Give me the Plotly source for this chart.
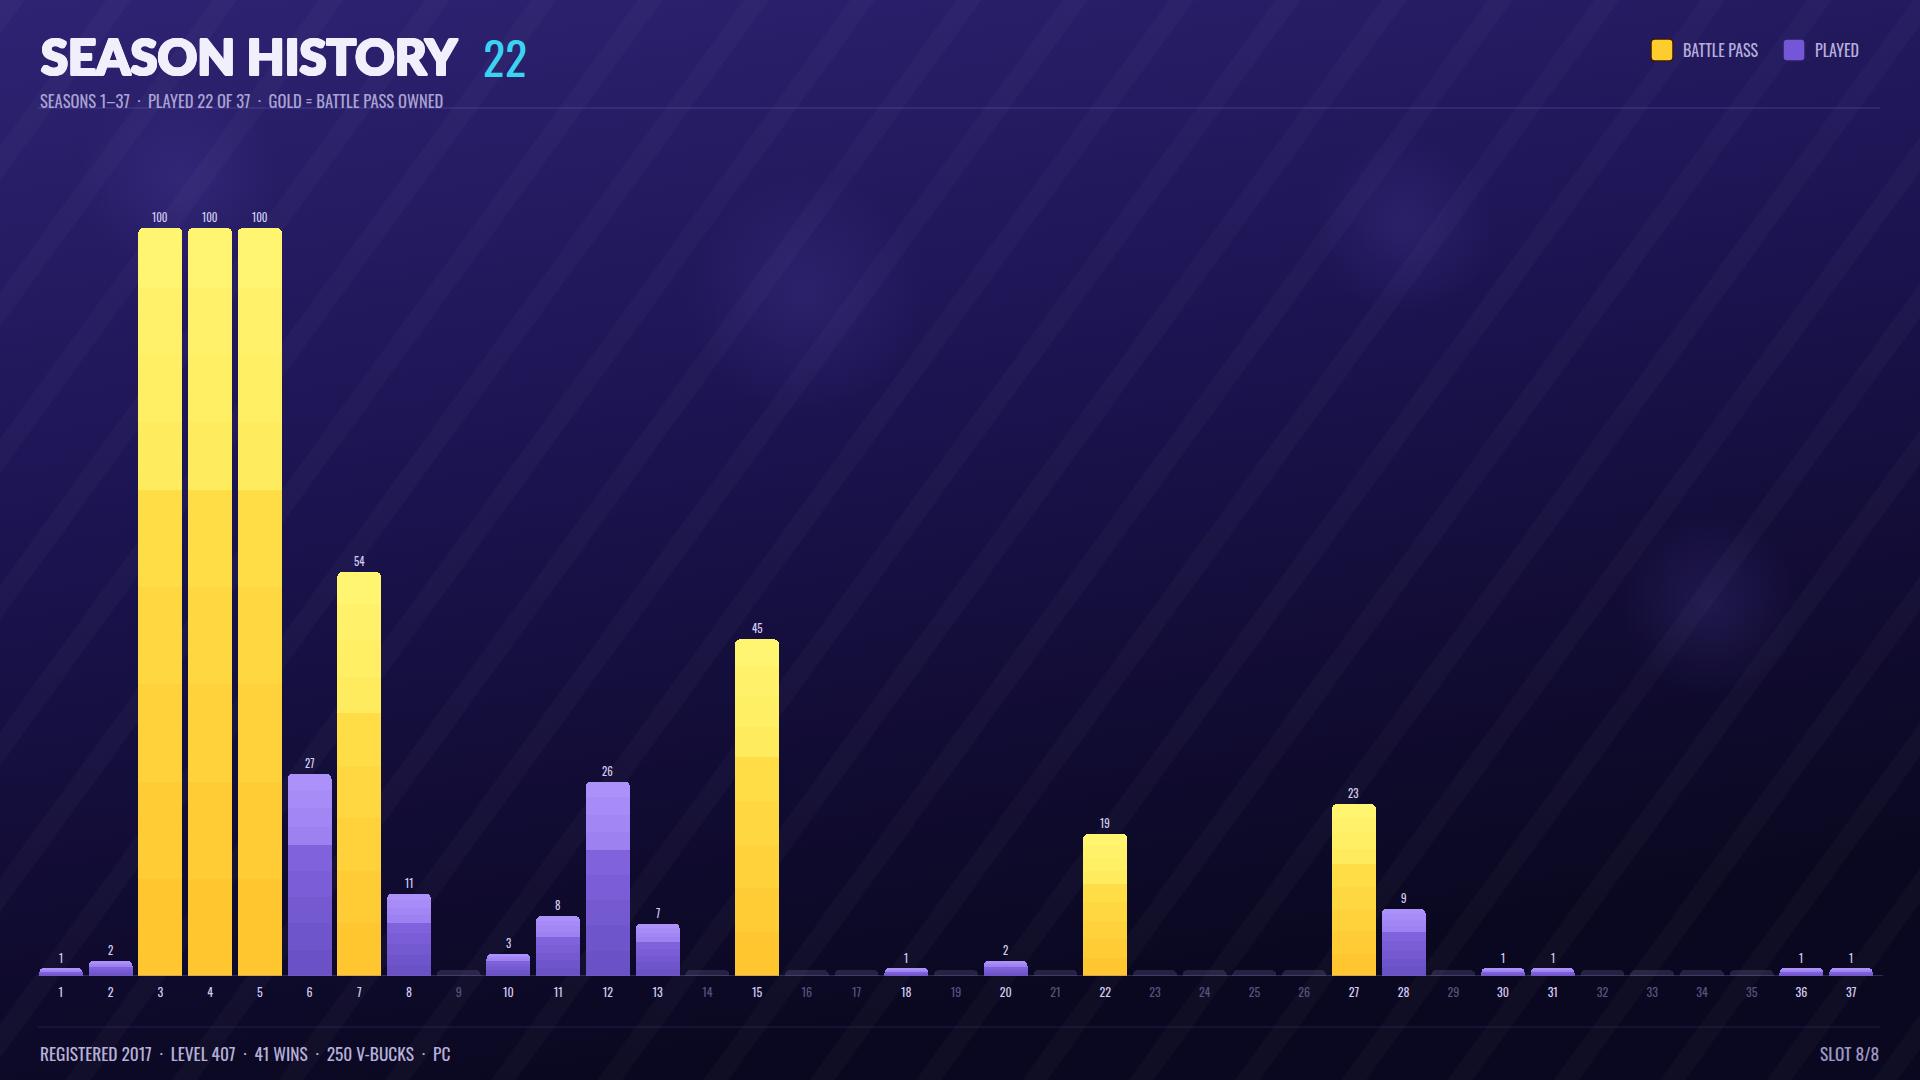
import base64
import plotly.graph_objects as go

# ---------------- data ----------------
seasons = list(range(1, 38))
values = [1, 2, 100, 100, 100, 27, 54, 11, 0, 3, 8, 26, 7, 0, 45, 0, 0, 1, 0, 2,
          0, 19, 0, 0, 0, 0, 23, 9, 0, 1, 1, 0, 0, 0, 0, 1, 1]
battle_pass = [3, 4, 5, 7, 15, 22, 27]
tick_labels = [str(s) for s in seasons]

title_text = "SEASON HISTORY"
title_count = "22"
subtitle = "SEASONS 1–37  ·  PLAYED 22 OF 37  ·  GOLD = BATTLE PASS OWNED"
footer_left = "REGISTERED 2017  ·  LEVEL 407  ·  41 WINS  ·  250 V-BUCKS  ·  PC"
footer_right = "SLOT 8/8"
legend_items = ["BATTLE PASS", "PLAYED"]

# ---------------- style ----------------
W, H = 1920, 1080
ML, MR, MT, MB = 36, 44, 198, 104
PW, PH = W - ML - MR, H - MT - MB

def px(x):
    return (x - ML) / PW

def py(y):
    return (H - MB - y) / PH

COND = "Oswald, 'Bebas Neue', 'Liberation Sans Narrow', 'Roboto Condensed', 'DejaVu Sans Condensed', 'Open Sans', sans-serif"
HEAVY = "'Lato Black', 'Noto Sans Black', Lato, 'Noto Sans', sans-serif"
TITLE_COL = "#f2effc"
HEAVY_SHADOW = ", ".join(f"{dx}px {dy}px 0 {TITLE_COL}" for dx, dy in
                         [(1.2, 0), (-1.2, 0), (0, 1.2), (0, -1.2), (1, 1), (-1, -1), (1, -1), (-1, 1)])
GHOST = 0.8

# gradient segment boundaries (fraction of bar height) and colours
bounds = [0, 0.13, 0.26, 0.39, 0.52, 0.65, 0.74, 0.83, 0.92, 1.0]
gold_cols = ["#FFC62F", "#FFCC35", "#FFD23B", "#FFD841", "#FFDD47",
             "#FFEC5E", "#FFEF64", "#FFF26A", "#FFF570"]
purp_cols = ["#6A51C6", "#6F55CB", "#7559D1", "#7A5ED7", "#8063DC",
             "#9D81F0", "#A286F3", "#A78BF7", "#AC91FA"]

fig = go.Figure()

for i in range(len(bounds) - 1):
    frac = bounds[i + 1] - bounds[i]
    ys = [v * frac if v > 0 else None for v in values]
    cols = [gold_cols[i] if s in battle_pass else purp_cols[i] for s in seasons]
    fig.add_trace(go.Bar(x=seasons, y=ys, marker=dict(color=cols, line=dict(width=0)),
                         showlegend=False, hoverinfo="skip"))

# placeholders for unplayed seasons
fig.add_trace(go.Bar(x=seasons, y=[GHOST if v == 0 else None for v in values],
                     marker=dict(color="rgba(110,100,150,0.28)", line=dict(width=0)),
                     showlegend=False, hoverinfo="skip"))

ticktext = [
    f"<span style='color:{'#d2cbef' if v > 0 else '#58517f'}'>{t}</span>"
    for t, v in zip(tick_labels, values)
]

# background svg
svg = f"""<svg xmlns='http://www.w3.org/2000/svg' width='{W}' height='{H}'>
<defs>
<linearGradient id='g' x1='0' y1='0' x2='0.3' y2='1'>
<stop offset='0' stop-color='#2e2373'/>
<stop offset='0.45' stop-color='#1c1452'/>
<stop offset='0.8' stop-color='#100b30'/>
<stop offset='1' stop-color='#0a0820'/>
</linearGradient>
<pattern id='p' width='86' height='3000' patternUnits='userSpaceOnUse' patternTransform='rotate(36)'>
<rect x='0' y='0' width='20' height='3000' fill='#ffffff' fill-opacity='0.024'/>
</pattern>
<radialGradient id='b'>
<stop offset='0' stop-color='#6a5ad0' stop-opacity='0.16'/>
<stop offset='1' stop-color='#6a5ad0' stop-opacity='0'/>
</radialGradient>
</defs>
<rect width='{W}' height='{H}' fill='url(#g)'/>
<circle cx='805' cy='295' r='120' fill='url(#b)'/>
<circle cx='1405' cy='225' r='90' fill='url(#b)'/>
<circle cx='1710' cy='605' r='90' fill='url(#b)'/>
<circle cx='180' cy='180' r='100' fill='url(#b)'/>
<rect x='-1000' y='-1000' width='4000' height='3000' fill='url(#p)'/>
</svg>"""
src = "data:image/svg+xml;base64," + base64.b64encode(svg.encode()).decode()

shapes = [
    dict(type="line", xref="paper", yref="paper", x0=px(38), x1=px(1880), y0=py(108), y1=py(108),
         line=dict(color="rgba(140,125,220,0.30)", width=1)),
    dict(type="line", xref="paper", yref="paper", x0=px(38), x1=px(1880), y0=py(1027), y1=py(1027),
         line=dict(color="rgba(140,125,220,0.18)", width=1)),
    dict(type="line", xref="paper", yref="y", x0=px(38), x1=px(1883), y0=0, y1=0,
         line=dict(color="rgba(120,110,170,0.45)", width=1.5)),
]

def swatch(xc, yc, color, border):
    r = 4
    s = 11
    path = (f"M {-s+r},{-s} L {s-r},{-s} Q {s},{-s} {s},{-s+r} L {s},{s-r} Q {s},{s} {s-r},{s} "
            f"L {-s+r},{s} Q {-s},{s} {-s},{s-r} L {-s},{-s+r} Q {-s},{-s} {-s+r},{-s} Z")
    return dict(type="path", xref="paper", yref="paper", xsizemode="pixel", ysizemode="pixel",
                xanchor=px(xc), yanchor=py(yc), path=path, fillcolor=color,
                line=dict(color=border, width=1.5))

shapes.append(swatch(1662, 50, "#FFCC2E", "#3a1a10"))
shapes.append(swatch(1794, 50, "#7357D6", "#2a1f66"))

annotations = [
    dict(text=title_text, xref="paper", yref="paper", x=px(39), y=py(56), xanchor="left", yanchor="middle",
         showarrow=False, font=dict(family=HEAVY, size=49, weight=900, color=TITLE_COL,
                                    shadow=HEAVY_SHADOW)),
    dict(text=title_count, xref="paper", yref="paper", x=px(481), y=py(56), xanchor="left", yanchor="middle",
         showarrow=False, font=dict(family=COND, size=46, color="#3ad3f2")),
    dict(text=subtitle, xref="paper", yref="paper", x=px(38), y=py(101), xanchor="left", yanchor="middle",
         showarrow=False, font=dict(family=COND, size=16.6, color="#a9a2d2")),
    dict(text=legend_items[0], xref="paper", yref="paper", x=px(1681), y=py(50), xanchor="left", yanchor="middle",
         showarrow=False, font=dict(family=COND, size=16, color="#b5aedc")),
    dict(text=legend_items[1], xref="paper", yref="paper", x=px(1813), y=py(50), xanchor="left", yanchor="middle",
         showarrow=False, font=dict(family=COND, size=16, color="#b5aedc")),
    dict(text=footer_left, xref="paper", yref="paper", x=px(38), y=py(1053), xanchor="left", yanchor="middle",
         showarrow=False, font=dict(family=COND, size=17.4, color="#b6b0d8")),
    dict(text=footer_right, xref="paper", yref="paper", x=px(1881), y=py(1053), xanchor="right", yanchor="middle",
         showarrow=False, font=dict(family=COND, size=17.4, color="#9d97c4")),
]

# value labels, placed at each bar's value
for s, v in zip(seasons, values):
    if v > 0:
        annotations.append(dict(text=str(v), x=s, y=v, xref="x", yref="y", yshift=11,
                                xanchor="center", yanchor="middle", showarrow=False,
                                font=dict(family=COND, size=11, color="#d4cdf0")))

fig.update_layout(
    width=W, height=H, autosize=False,
    margin=dict(l=ML, r=MR, t=MT, b=MB, pad=0),
    paper_bgcolor="#140f3a", plot_bgcolor="rgba(0,0,0,0)",
    barmode="stack", bargap=0.115, barcornerradius=5,
    showlegend=False,
    xaxis=dict(range=[0.5, 37.5], tickmode="array", tickvals=seasons, ticktext=ticktext,
               showgrid=False, zeroline=False, showline=False, ticks="",
               tickfont=dict(family=COND, size=12), ticklabelstandoff=8, fixedrange=True),
    yaxis=dict(range=[0, 104], showgrid=False, zeroline=False, showline=False,
               showticklabels=False, fixedrange=True),
    images=[dict(source=src, xref="paper", yref="paper", x=px(0), y=py(0),
                 sizex=W / PW, sizey=H / PH, xanchor="left", yanchor="top",
                 sizing="stretch", layer="below")],
    shapes=shapes,
    annotations=annotations,
)

fig.write_html("out.html", config=dict(displayModeBar=False),
               post_script="document.body.style.margin='0';document.body.style.overflow='hidden';")
